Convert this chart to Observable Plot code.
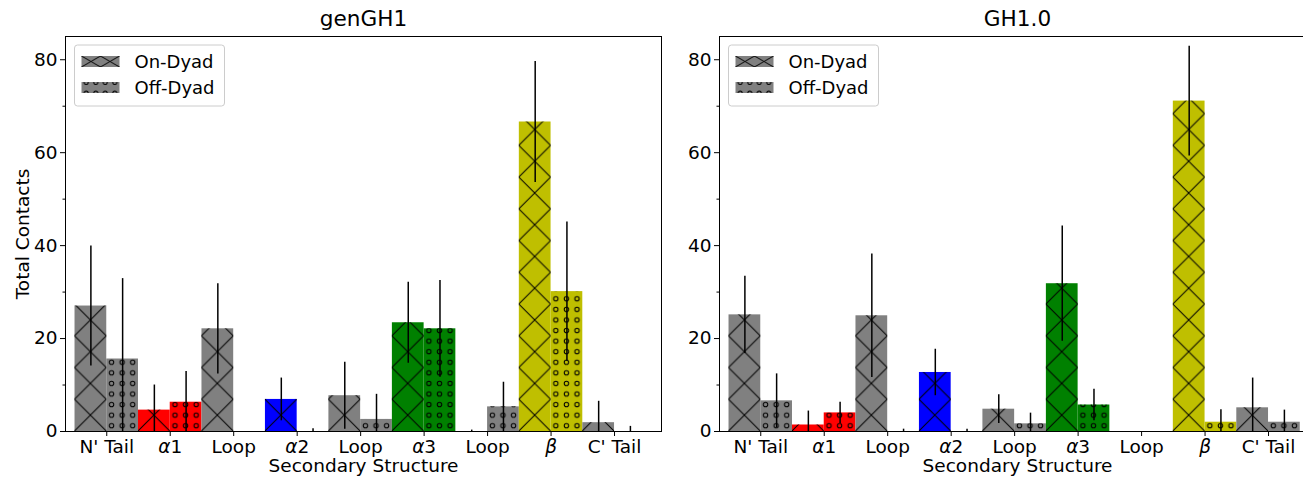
<!DOCTYPE html>
<html>
<head>
<meta charset="utf-8">
<script src="https://cdn.jsdelivr.net/npm/d3@7"></script>
<script src="https://cdn.jsdelivr.net/npm/@observablehq/plot@0.6"></script>
<style>
html, body { margin: 0; padding: 0; background: #fff; overflow: hidden; }
#wrap { display: flex; flex-wrap: nowrap; width: 1320px; }
#wrap svg { display: block; flex: none; }
</style>
</head>
<body>
<div id="wrap"></div>
<script>
// ---------- data ----------
const categories = ["N' Tail", "α1", "Loop", "α2", "Loop", "α3", "Loop", "β", "C' Tail"];
const categoryColors = ["#808080", "#ff0000", "#808080", "#0000ff", "#808080", "#008000", "#808080", "#bfbf00", "#808080"];
const seriesNames = ["On-Dyad", "Off-Dyad"];
const panelTitles = ["genGH1", "GH1.0"];

const genGH1On     = [27.0, 4.6, 22.1, 6.9, 7.7, 23.4, 0.0, 66.6, 1.9];
const genGH1OnErr  = [12.9, 5.4, 9.7, 4.6, 7.2, 8.7, 0.3, 13.0, 4.6];
const genGH1Off    = [15.6, 6.3, 0.0, 0.0, 2.6, 22.1, 5.3, 30.1, 0.0];
const genGH1OffErr = [17.3, 6.6, 0.0, 0.6, 5.4, 10.4, 5.3, 15.0, 1.1];

const gh10On     = [25.1, 1.4, 24.9, 12.7, 4.8, 31.8, 0.0, 71.1, 5.1];
const gh10OnErr  = [8.3, 3.0, 13.3, 5.0, 3.1, 12.4, 0.0, 11.8, 6.4];
const gh10Off    = [6.6, 4.0, 0.0, 0.0, 1.65, 5.7, 0.0, 2.0, 2.0];
const gh10OffErr = [5.8, 2.3, 0.5, 0.5, 2.3, 3.4, 0.0, 2.7, 2.6];

const yTicks = [0, 20, 40, 60, 80];
const yMinorTicks = [10, 30, 50, 70];
const xLabel = "Secondary Structure";
const yLabel = "Total Contacts";

// ---------- build ----------
function buildRows(on, onErr, off, offErr) {
  return categories.flatMap((c, i) => [
    {i, cat: c, series: seriesNames[0], x1: i - 0.5, x2: i, xm: i - 0.25, v: on[i], e: onErr[i], color: categoryColors[i]},
    {i, cat: c, series: seriesNames[1], x1: i, x2: i + 0.5, xm: i + 0.25, v: off[i], e: offErr[i], color: categoryColors[i]}
  ]);
}

const FONT = "'DejaVu Sans', 'Liberation Sans', sans-serif";

function makePanel(k, on, onErr, off, offErr) {
  const rows = buildRows(on, onErr, off, offErr);
  const onRows = rows.filter(d => d.series === seriesNames[0]);
  const offRows = rows.filter(d => d.series === seriesNames[1]);
  const ml = k === 0 ? 65 : 56;
  const W = ml + 596 + 2;
  const marks = [
    Plot.rectY(rows, {x1: "x1", x2: "x2", y: "v", fill: "color"}),
    Plot.rectY(onRows, {x1: "x1", x2: "x2", y: "v", fill: `url(#xh${k})`}),
    Plot.rectY(offRows, {x1: "x1", x2: "x2", y: "v", fill: `url(#dots${k})`}),
    Plot.ruleX(rows, {x: "xm", y1: d => d.v - d.e, y2: d => d.v + d.e, stroke: "black", strokeWidth: 1.5, clip: true}),
    Plot.frame({stroke: "black", strokeWidth: 1}),
    Plot.axisX(categories.map((c, i) => i), {tickFormat: i => categories[i], tickSize: 5, tickPadding: 3, label: null}),
    Plot.axisY(yTicks, {tickSize: 5, tickPadding: 3, label: null}),
    Plot.axisY(yMinorTicks, {tickSize: 2.5, tickFormat: () => "", label: null}),
    Plot.text([panelTitles[k]], {text: d => d, frameAnchor: "top", lineAnchor: "middle", dy: -17, fontSize: 21.6}),
    Plot.text([xLabel], {text: d => d, frameAnchor: "bottom", lineAnchor: "middle", dy: 35, fontSize: 18.5})
  ];
  if (k === 0) marks.push(Plot.text([yLabel], {text: d => d, frameAnchor: "left", textAnchor: "middle", lineAnchor: "middle", rotate: -90, dx: -42, fontSize: 18.5}));

  const chart = Plot.plot({
    width: W, height: 477,
    marginLeft: ml, marginRight: 2, marginTop: 36, marginBottom: 46,
    style: {fontFamily: FONT, fontSize: "18px", color: "black", background: "white", overflow: "visible"},
    x: {type: "linear", domain: [-0.65, 8.74]},
    y: {domain: [0, 85]},
    color: {type: "identity"},
    marks
  });

  const svg = d3.select(chart);
  svg.selectAll('g[aria-label$="tick label"]').attr("font-size", 18.5);

  // patterns aligned with the bars
  const sx = chart.scale("x"), sy = chart.scale("y");
  const x0 = sx.apply(-0.5);
  const pw = sx.apply(0) - sx.apply(-0.5);
  const base = sy.apply(0);
  const defs = svg.insert("defs", ":first-child");
  const px = defs.append("pattern").attr("id", `xh${k}`).attr("patternUnits", "userSpaceOnUse")
    .attr("x", x0).attr("y", base).attr("width", pw).attr("height", pw);
  px.append("path").attr("d", `M0,0L${pw},${pw}M${pw},0L0,${pw}`).attr("stroke", "black").attr("stroke-width", 1).attr("fill", "none");
  const ds = pw / 3;
  const pd = defs.append("pattern").attr("id", `dots${k}`).attr("patternUnits", "userSpaceOnUse")
    .attr("x", x0).attr("y", base).attr("width", ds).attr("height", ds);
  pd.append("circle").attr("cx", ds / 2).attr("cy", ds / 2).attr("r", 2.2).attr("stroke", "black").attr("stroke-width", 1).attr("fill", "none");

  // italic greek letters in tick labels
  svg.selectAll('g[aria-label="x-axis tick label"] text').each(function () {
    const t = this.textContent;
    if (/^[αβ]/.test(t)) {
      const s = d3.select(this);
      s.text(null);
      s.append("tspan").attr("font-style", "italic").text(t[0]);
      if (t.length > 1) s.append("tspan").text(t.slice(1));
    }
  });

  // legend
  const lx = ml + 9.5, ly = 36 + 9;
  const lpx = defs.append("pattern").attr("id", `lxh${k}`).attr("patternUnits", "userSpaceOnUse")
    .attr("x", lx + 7).attr("y", ly + 11).attr("width", 19).attr("height", 11);
  lpx.append("path").attr("d", "M0,0L19,11M19,0L0,11").attr("stroke", "black").attr("stroke-width", 1).attr("fill", "none");
  const lpd = defs.append("pattern").attr("id", `ldots${k}`).attr("patternUnits", "userSpaceOnUse")
    .attr("x", lx + 7).attr("y", ly + 37).attr("width", 9.5).attr("height", 11);
  lpd.append("circle").attr("cx", 4.75).attr("cy", 0.5).attr("r", 2).attr("stroke", "black").attr("stroke-width", 1).attr("fill", "none");
  lpd.append("circle").attr("cx", 4.75).attr("cy", 11).attr("r", 2).attr("stroke", "black").attr("stroke-width", 1).attr("fill", "none");

  const lg = svg.append("g").attr("aria-label", "legend");
  lg.append("rect").attr("x", lx).attr("y", ly).attr("width", 150).attr("height", 61).attr("rx", 3)
    .attr("fill", "white").attr("fill-opacity", 0.8).attr("stroke", "#cccccc");
  seriesNames.forEach((name, j) => {
    const py = ly + 11 + j * 26;
    lg.append("rect").attr("x", lx + 7).attr("y", py).attr("width", 38).attr("height", 11).attr("fill", "#808080");
    lg.append("rect").attr("x", lx + 7).attr("y", py).attr("width", 38).attr("height", 11)
      .attr("fill", j === 0 ? `url(#lxh${k})` : `url(#ldots${k})`);
    lg.append("text").attr("x", lx + 60).attr("y", py + 5.5).attr("dominant-baseline", "central")
      .attr("text-anchor", "start")
      .attr("font-size", 18).attr("font-family", FONT).attr("fill", "black").text(name);
  });
  return chart;
}

const wrap = document.getElementById("wrap");
wrap.appendChild(makePanel(0, genGH1On, genGH1OnErr, genGH1Off, genGH1OffErr));
wrap.appendChild(makePanel(1, gh10On, gh10OnErr, gh10Off, gh10OffErr));
</script>
</body>
</html>
